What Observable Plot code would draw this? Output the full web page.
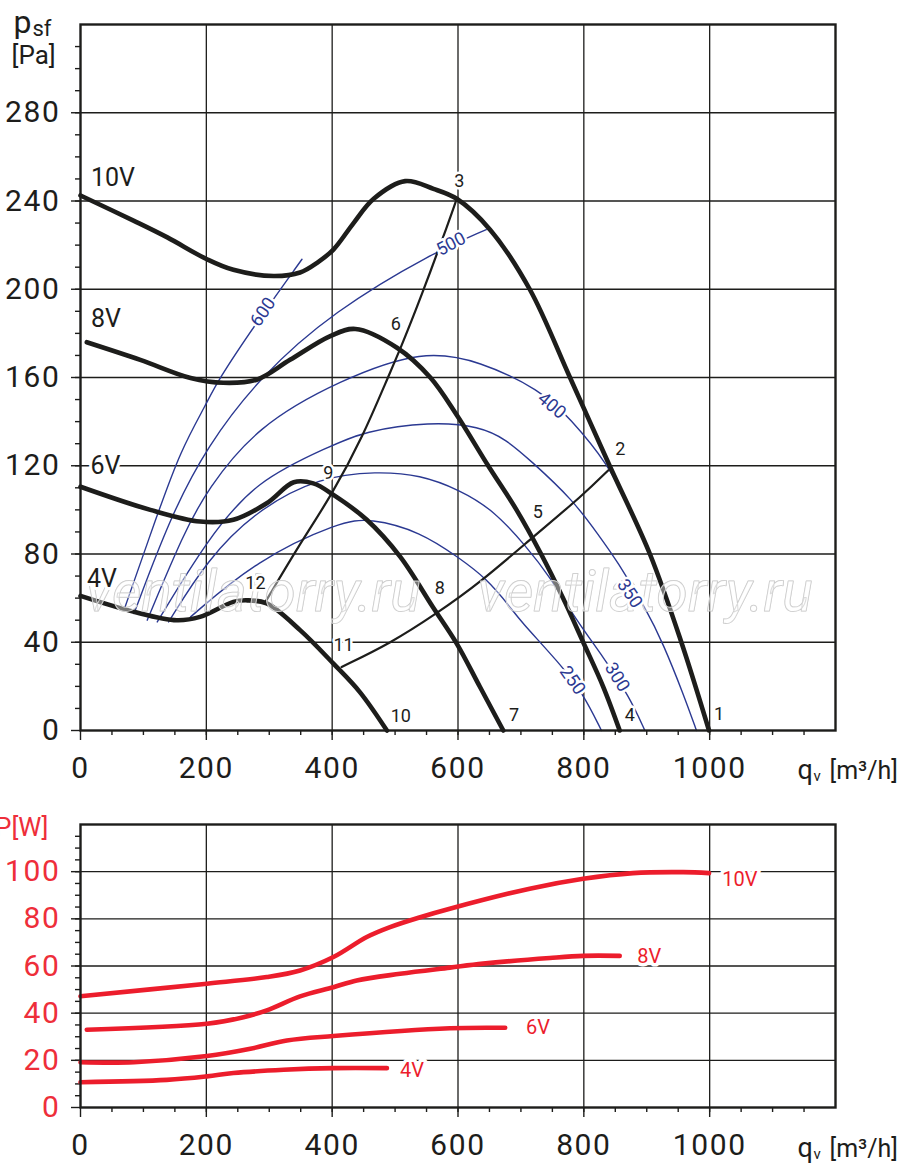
<!DOCTYPE html>
<html>
<head>
<meta charset="utf-8">
<script src="https://cdn.jsdelivr.net/npm/d3@7"></script>
<script src="https://cdn.jsdelivr.net/npm/@observablehq/plot@0.6"></script>
<style>
  html, body { margin: 0; padding: 0; background: #fff; }
  #chart { width: 900px; height: 1175px; position: relative; overflow: hidden; }
  #chart svg { display: block; }
  g[aria-label="x-axis tick label"] text,
  g[aria-label="y-axis tick label"] text { letter-spacing: 1.6px; }
</style>
</head>
<body>
<div id="chart"></div>
<script>
// ---------- axis ticks ----------
const qMajor = [0, 200, 400, 600, 800, 1000];
const qGrid = [200, 400, 600, 800, 1000];
const pMajor = [0, 40, 80, 120, 160, 200, 240, 280];
const pGrid = [40, 80, 120, 160, 200, 240, 280];
const wMajor = [0, 20, 40, 60, 80, 100];
const wGrid = [20, 40, 60, 80, 100];

// ---------- fan curves psf [Pa] vs qv [m3/h] ----------
const p10V = [[0,242.5],[85,231],[138,223.5],[201,213.6],[243,208.8],[307,206],[349,207.6],[376,212],[402,218],[434,230],[466,241],[516,249],[561,245.5],[598,241],[651,227],[714,200],[778,160],[841,120],[905,80],[955,40],[999,0]];
const p8V  = [[10,176],[95,168],[175,159.8],[227,157.6],[280,159],[333,168],[397,178.8],[437,182],[503,173.5],[556,160],[598,143],[648,120],[693,100],[732,80],[767,60],[799,40],[831,19.7],[857,0]];
const p6V  = [[0,110.5],[111,100],[190,94.7],[243,95.5],[296,103],[339,112.5],[370,112],[402,106.8],[455,95.5],[508,78.8],[560,56],[598,39.4],[635,19.7],[672,0]];
const p4V  = [[0,61],[85,53.8],[153,50],[190,51.5],[243,58.3],[265,59],[296,57.6],[349,45.5],[402,30.3],[444,17.4],[487,0]];

// system (duct) characteristics
const sysA = [[294,58.3],[349,84.8],[399,106.5],[450,134],[487,159],[508,172.7],[540,195.5],[587,231.8],[598,241]];
const sysB = [[415,28.8],[492,39.4],[566,53],[635,67],[720,87.9],[799,106.8],[839,118]];

// iso-lines (blue)
const c600 = [[69,54.5],[121,97],[159,127],[201,148.5],[217,158],[275,183],[352,213.6]];
const c500 = [[85,53],[143,97],[201,128.8],[286,160.6],[402,190],[561,216.8],[645,227]];
const c400 = [[106,50],[164,89.4],[201,109],[280,137.9],[413,159],[545,172.7],[635,167.4],[730,154.5],[778,141.7],[841,119.7],[866,104]];
const c350 = [[122,49.2],[201,86.4],[280,113.6],[397,128.8],[450,135.6],[556,140],[635,137.9],[677,131.8],[714,122.7],[783,104.5],[825,87.9],[852,77.3],[900,54.5],[926,39.4],[958,16.7],[979,0]];
const c300 = [[140,49.2],[201,77.3],[280,100],[381,115],[471,117.4],[540,115.9],[603,109],[656,100],[709,83.3],[746,69.7],[788,50],[831,33.3],[873,15.1],[897,0]];
const c250 = [[175,51.5],[280,77.3],[413,94.7],[460,96.2],[540,90.2],[603,78],[645,69],[683,56],[698,50],[762,30.3],[799,16.7],[828,0]];

const contourLabels = [
  {label: "600", q: 290, p: 189.7, angle: -56},
  {label: "500", q: 589, p: 220.5, angle: -28},
  {label: "400", q: 749, p: 147.3, angle: 40},
  {label: "350", q: 873, p: 62.1, angle: 56},
  {label: "300", q: 853, p: 24.2, angle: 58},
  {label: "250", q: 782, p: 22.7, angle: 55}
];

const pointLabels = [
  {label: "1", q: 1015, p: 7.2}, {label: "2", q: 858, p: 127.3}, {label: "3", q: 602, p: 249},
  {label: "4", q: 873, p: 6.8}, {label: "5", q: 727, p: 99}, {label: "6", q: 501, p: 184},
  {label: "7", q: 689, p: 6.8}, {label: "8", q: 571, p: 64.4}, {label: "9", q: 394, p: 116.7},
  {label: "10", q: 509, p: 6.4}, {label: "11", q: 418, p: 38.6}, {label: "12", q: 278, p: 66.7}
];

const voltLabelsP = [
  {label: "10V", q: 51.6, p: 250.5}, {label: "8V", q: 40.5, p: 186.6},
  {label: "6V", q: 39.7, p: 119.9}, {label: "4V", q: 34, p: 68.6}
];

// ---------- power P [W] vs qv ----------
const w10V = [[0,47.2],[201,52.5],[296,55.3],[349,58.1],[402,63.8],[455,72.3],[492,76.5],[540,80.7],[587,84.3],[714,92.8],[799,97],[878,99.4],[958,99.8],[999,99.4]];
const w8V  = [[10,33],[201,35.5],[259,38.3],[296,41.2],[349,47.1],[402,51],[439,53.9],[508,56.7],[587,59.3],[640,61],[746,63.4],[799,64.3],[857,64.3]];
const w6V  = [[0,19.2],[85,19.2],[201,21.8],[270,24.9],[328,28.4],[402,30.3],[587,33.6],[675,33.8]];
const w4V  = [[0,10.7],[137,11.7],[201,13.2],[243,14.6],[323,16],[402,16.7],[487,16.7]];

const voltLabelsW = [
  {label: "10V", q: 1048, w: 96.7}, {label: "8V", q: 904, w: 63.8},
  {label: "6V", q: 727, w: 33.8}, {label: "4V", q: 527, w: 15.7}
];

const watermark = ["ventilatorry.ru"];

// ---------- styling ----------
const ink = "#1d1d1b", blue = "#2b3992", red = "#ec1d2c", redText = "#ee2e3a";
const FONT = "Roboto, 'Noto Sans', 'DejaVu Sans', sans-serif";
const fmt = d3.format("d");

const line = (data, stroke, strokeWidth, curve = "catmull-rom") => Plot.line(data, {
  x: d => d[0], y: d => d[1], curve,
  stroke, strokeWidth, strokeLinecap: "round", strokeLinejoin: "round"
});

const wm = (dx) => Plot.text(watermark, {
  text: d => d, frameAnchor: "bottom-left", dx, dy: -120,
  textAnchor: "start", lineAnchor: "bottom",
  fontSize: 57, fontStyle: "italic", fontFamily: FONT,
  fill: "white", fillOpacity: 0.4, stroke: "#c4c4c4", strokeWidth: 1
});

const title = (t, anchor, dx, dy, fontSize, fill, textAnchor = "start") =>
  Plot.text([t], {text: d => d, frameAnchor: anchor, dx, dy, textAnchor, lineAnchor: "bottom", fontSize, fill});

const topPlot = Plot.plot({
  width: 900, height: 790,
  marginLeft: 80, marginRight: 65, marginTop: 24, marginBottom: 60,
  style: {fontFamily: FONT, background: "white", overflow: "visible", color: ink},
  x: {domain: [0, 1200], axis: null, label: null},
  y: {domain: [0, 320], axis: null, label: null},
  marks: [
    Plot.gridX(qGrid, {stroke: ink, strokeOpacity: 1, strokeWidth: 1.3}),
    Plot.gridY(pGrid, {stroke: ink, strokeOpacity: 1, strokeWidth: 1.3}),
    Plot.axisY(pMajor, {label: null, tickSize: 9, tickPadding: 11, fontSize: 30, tickFormat: fmt, fill: ink, stroke: ink, strokeWidth: 1.4}),
    Plot.axisY(d3.range(10, 320, 10), {label: null, tickSize: 5, tickFormat: () => "", stroke: ink, strokeWidth: 1.4}),
    Plot.axisX(qMajor, {label: null, tickSize: 10, tickPadding: 16, fontSize: 30, tickFormat: fmt, fill: ink, stroke: ink, strokeWidth: 1.4}),
    Plot.axisX(d3.range(50, 1200, 50), {label: null, tickSize: 5, tickFormat: () => "", stroke: ink, strokeWidth: 1.4}),
    ...[c600, c500, c400, c350, c300, c250].map(c => line(c, blue, 1.4, "basis")),
    line(sysA, ink, 2.2, "basis"),
    line(sysB, ink, 2.2, "basis"),
    line(p10V, ink, 4.6),
    line(p8V, ink, 4.6),
    line(p6V, ink, 4.6),
    line(p4V, ink, 4.6),
    wm(5), wm(397),
    Plot.text(contourLabels, {x: "q", y: "p", text: "label", rotate: "angle", fill: blue, stroke: "white", strokeWidth: 5, fontSize: 18}),
    Plot.text(pointLabels, {x: "q", y: "p", text: "label", fill: ink, stroke: "white", strokeWidth: 5, fontSize: 18}),
    Plot.text(voltLabelsP, {x: "q", y: "p", text: "label", fill: ink, stroke: "white", strokeWidth: 6, fontSize: 25}),
    Plot.frame({stroke: ink, strokeWidth: 2.4}),
    title("p", "top-left", -67, 8, 32, ink),
    title("sf", "top-left", -48, 11, 22, ink),
    title("[Pa]", "top-left", -69, 39, 26, ink),
    title("q", "bottom-right", -38, 48, 27, ink),
    title("v", "bottom-right", -22, 50, 15, ink),
    title("[m³/h]", "bottom-right", -6, 48, 25, ink)
  ]
});

const botPlot = Plot.plot({
  width: 900, height: 385,
  marginLeft: 80, marginRight: 65, marginTop: 34, marginBottom: 68,
  style: {fontFamily: FONT, background: "white", overflow: "visible", color: ink},
  x: {domain: [0, 1200], axis: null, label: null},
  y: {domain: [0, 120], axis: null, label: null},
  marks: [
    Plot.gridX(qGrid, {stroke: ink, strokeOpacity: 1, strokeWidth: 1.3}),
    Plot.gridY(wGrid, {stroke: ink, strokeOpacity: 1, strokeWidth: 1.3}),
    Plot.axisY(wMajor, {label: null, tickSize: 9, tickPadding: 11, fontSize: 30, tickFormat: fmt, fill: redText, stroke: ink, strokeWidth: 1.4}),
    Plot.axisY(d3.range(5, 120, 5), {label: null, tickSize: 5, tickFormat: () => "", stroke: ink, strokeWidth: 1.4}),
    Plot.axisX(qMajor, {label: null, tickSize: 10, tickPadding: 16, fontSize: 30, tickFormat: fmt, fill: ink, stroke: ink, strokeWidth: 1.4}),
    Plot.axisX(d3.range(50, 1200, 50), {label: null, tickSize: 5, tickFormat: () => "", stroke: ink, strokeWidth: 1.4}),
    line(w10V, red, 4.6),
    line(w8V, red, 4.6),
    line(w6V, red, 4.6),
    line(w4V, red, 4.6),
    Plot.text(voltLabelsW, {x: "q", y: "w", text: "label", fill: red, stroke: "white", strokeWidth: 7, fontSize: 20}),
    Plot.frame({stroke: ink, strokeWidth: 2.4}),
    title("P[W]", "top-left", -32, 11, 26, redText, "end"),
    title("q", "bottom-right", -38, 49, 27, ink),
    title("v", "bottom-right", -22, 51, 15, ink),
    title("[m³/h]", "bottom-right", -6, 49, 25, ink)
  ]
});

const host = document.getElementById("chart");
host.appendChild(topPlot);
host.appendChild(botPlot);
</script>
</body>
</html>
